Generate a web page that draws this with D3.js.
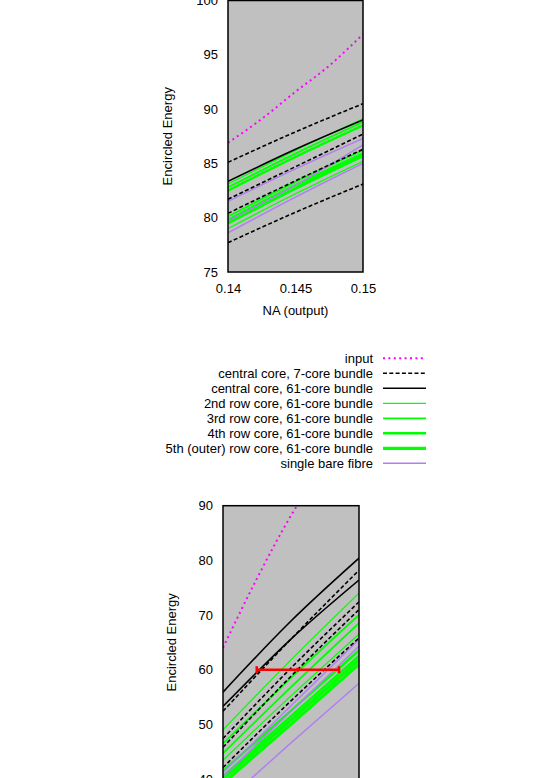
<!DOCTYPE html>
<html>
<head>
<meta charset="utf-8">
<script src="https://cdn.jsdelivr.net/npm/d3@7"></script>
<style>
    body { margin: 0; background: #fff; }
    svg { display: block; font-family: "Liberation Sans", Arial, sans-serif; }
</style>
</head>
<body>
<svg id="chart" width="545" height="778"></svg>
<script>
// x positions (NA output) where values were read
const naPts = [0.14, 0.145, 0.15];
const naInputTop = [0.14, 0.1425, 0.145, 0.1475, 0.15];
const naInputBottom = [0.14, 0.1425, 0.145, 0.1475];

// top panel (encircled energy, %)
const topInput = [86.9, 89.1, 91.6, 94.0, 96.9];
const topCentral7 = [[85.1, 87.9, 90.5], [81.7, 84.7, 87.7], [80.4, 83.4, 86.3], [77.7, 80.5, 83.1]];
const topCentral61 = [[83.35, 86.3, 89.0]];
const topRow2 = [[83.1, 86.2, 89.1], [79.0, 82.2, 85.2]];
const topRow3 = [[82.8, 85.9, 88.8], [80.1, 83.3, 86.2]];
const topRow4 = [[82.5, 85.6, 88.5], [79.8, 83.0, 85.9]];
const topRow5 = [[79.5, 82.7, 85.7]];
const topBare = [[81.5, 84.5, 87.3], [79.7, 83.0, 86.7], [78.6, 81.9, 85.0]];

// bottom panel
const botInput = [64.0, 76.7, 88.2, 97.8];
const botCentral7 = [[52.4, 65.6, 78.2], [47.4, 60.3, 72.4], [45.8, 58.8, 71.0], [42.1, 54.3, 65.8]];
const botCentral61 = [[55.9, 68.9, 80.4], [53.3, 65.6, 76.4]];
const botRow2 = [[49.0, 61.8, 74.0], [43.4, 55.2, 66.5]];
const botRow3 = [[46.5, 58.5, 70.0], [44.7, 56.8, 68.5]];
const botRow4 = [[41.5, 52.5, 63.5], [40.5, 51.5, 62.5]];
const botRow5 = [[40.0, 50.8, 61.8], [39.2, 50.0, 61.0]];
const botBare = [[41.2, 53.4, 65.5], [40.4, 52.4, 64.3], [35.5, 46.6, 57.5]];
const errBar = { lo: 0.14248, mid: 0.14549, hi: 0.14853, ee: 60 };

const topYTicks = [75, 80, 85, 90, 95, 100];
const topXTicks = [0.14, 0.145, 0.15];
const botYTicks = [40, 50, 60, 70, 80, 90];

// series styles, in legend order
const styles = [
    { name: "input", color: "#ff00ff", width: 2, dash: "2,3.4" },
    { name: "central core, 7-core bundle", color: "#000", width: 1.6, dash: "4,2.3" },
    { name: "central core, 61-core bundle", color: "#000", width: 1.6, dash: null },
    { name: "2nd row core, 61-core bundle", color: "#00ff00", width: 1.2, dash: null },
    { name: "3rd row core, 61-core bundle", color: "#00ff00", width: 1.8, dash: null },
    { name: "4th row core, 61-core bundle", color: "#00ff00", width: 2.5, dash: null },
    { name: "5th (outer) row core, 61-core bundle", color: "#00ff00", width: 3.2, dash: null },
    { name: "single bare fibre", color: "#b080f0", width: 1.5, dash: null }
];

const fontSize = 13;
const svg = d3.select("#chart");

function drawPanel(cfg) {
    const x = d3.scaleLinear().domain([0.14, 0.15]).range([cfg.left, cfg.right]);
    const y = d3.scaleLinear().domain(cfg.yDomain).range([cfg.bottom, cfg.top]);
    const g = svg.append("g");

    g.append("clipPath").attr("id", cfg.id)
        .append("rect")
        .attr("x", cfg.left).attr("y", cfg.top)
        .attr("width", cfg.right - cfg.left).attr("height", cfg.bottom - cfg.top);

    g.append("rect")
        .attr("x", cfg.left).attr("y", cfg.top)
        .attr("width", cfg.right - cfg.left).attr("height", cfg.bottom - cfg.top)
        .attr("fill", "#c0c0c0");

    const plot = g.append("g").attr("clip-path", `url(#${cfg.id})`);

    // build list of lines: [style index, xs, values]
    const lines = [];
    lines.push([0, cfg.inputX, cfg.input]);
    cfg.groups.forEach((grp, i) => grp.forEach(v => lines.push([i + 1, naPts, v])));

    const lineGen = d3.line().curve(d3.curveMonotoneX);
    // solid lines first, dashed/dotted on top
    const order = [3, 4, 5, 6, 7, 2, 1, 0];
    order.forEach(si => {
        const s = styles[si];
        plot.selectAll(null)
            .data(lines.filter(l => l[0] === si))
            .join("path")
            .attr("d", l => lineGen(l[1].map((xv, k) => [x(xv), y(l[2][k])])))
            .attr("fill", "none")
            .attr("stroke", s.color)
            .attr("stroke-width", s.width)
            .attr("stroke-dasharray", s.dash);
    });

    if (cfg.err) {
        const e = cfg.err;
        const eg = plot.append("g").attr("stroke", "#ff0000").attr("stroke-width", 2.5);
        eg.append("line")
            .attr("x1", x(e.lo)).attr("x2", x(e.hi))
            .attr("y1", y(e.ee)).attr("y2", y(e.ee));
        [e.lo, e.hi].forEach(v => eg.append("line")
            .attr("x1", x(v)).attr("x2", x(v))
            .attr("y1", y(e.ee) - 3.5).attr("y2", y(e.ee) + 3.5));
        eg.append("line")
            .attr("x1", x(e.mid)).attr("x2", x(e.mid))
            .attr("y1", y(e.ee) - 2).attr("y2", y(e.ee) + 2);
    }

    // frame
    g.append("rect")
        .attr("x", cfg.left).attr("y", cfg.top)
        .attr("width", cfg.right - cfg.left).attr("height", cfg.bottom - cfg.top)
        .attr("fill", "none").attr("stroke", "#000").attr("stroke-width", 1.5);

    // axes
    const yAxis = g.append("g")
        .attr("transform", `translate(${cfg.left},0)`)
        .call(d3.axisLeft(y).tickValues(cfg.yTicks).tickSize(0).tickPadding(10));
    yAxis.select(".domain").remove();
    yAxis.selectAll("text").attr("font-size", fontSize).attr("font-family", null).attr("fill", "#000");

    if (cfg.xTicks) {
        const xAxis = g.append("g")
            .attr("transform", `translate(0,${cfg.bottom})`)
            .call(d3.axisBottom(x).tickValues(cfg.xTicks).tickFormat(d3.format("")).tickSize(0).tickPadding(12));
        xAxis.select(".domain").remove();
        xAxis.selectAll("text").attr("font-size", fontSize).attr("font-family", null).attr("fill", "#000");

        g.append("text")
            .attr("x", (cfg.left + cfg.right) / 2).attr("y", cfg.bottom + 43)
            .attr("text-anchor", "middle").attr("font-size", fontSize)
            .text("NA (output)");
    }

    g.append("text")
        .attr("transform", `translate(${cfg.yLabelX},${(cfg.top + cfg.bottom) / 2}) rotate(-90)`)
        .attr("text-anchor", "middle").attr("font-size", fontSize)
        .text("Encircled Energy");
}

drawPanel({
    id: "clipTop", left: 228, right: 363, top: 0.5, bottom: 272,
    yDomain: [75, 100], yTicks: topYTicks, xTicks: topXTicks, yLabelX: 172,
    inputX: naInputTop, input: topInput,
    groups: [topCentral7, topCentral61, topRow2, topRow3, topRow4, topRow5, topBare]
});

drawPanel({
    id: "clipBot", left: 223, right: 359, top: 505.7, bottom: 779,
    yDomain: [40, 90], yTicks: botYTicks, xTicks: null, yLabelX: 176,
    inputX: naInputBottom, input: botInput, err: errBar,
    groups: [botCentral7, botCentral61, botRow2, botRow3, botRow4, botRow5, botBare]
});

// legend
const legend = svg.append("g").attr("font-size", fontSize);
styles.forEach((s, i) => {
    const ly = 358.3 + i * 15;
    legend.append("text")
        .attr("x", 373).attr("y", ly).attr("dy", "0.35em")
        .attr("text-anchor", "end")
        .text(s.name);
    legend.append("line")
        .attr("x1", 383).attr("x2", 426)
        .attr("y1", ly).attr("y2", ly)
        .attr("stroke", s.color)
        .attr("stroke-width", s.width)
        .attr("stroke-dasharray", s.dash);
});
</script>
</body>
</html>
